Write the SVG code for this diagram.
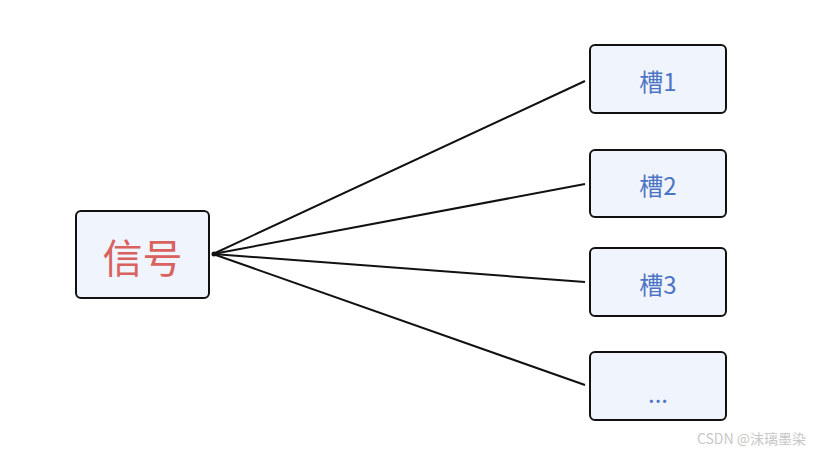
<svg xmlns="http://www.w3.org/2000/svg" width="818" height="456" viewBox="0 0 818 456">
<style>
.box{fill:#eff4fd;stroke:#111;stroke-width:2}
.lbl{font-family:"Noto Sans CJK SC","Noto Sans",sans-serif;fill:#4d74c4;font-size:24px;text-anchor:middle;dominant-baseline:central}
.conn{stroke:#111;stroke-width:2;fill:none}
</style>
<rect width="818" height="456" fill="#fff"/>
<g id="connectors">
<line class="conn" x1="213" y1="254" x2="585" y2="81"/>
<line class="conn" x1="213" y1="254" x2="585" y2="184"/>
<line class="conn" x1="213" y1="254" x2="585" y2="282"/>
<line class="conn" x1="213" y1="254" x2="585" y2="385"/>
<circle cx="214" cy="254" r="2.5" fill="#111"/>
</g>
<g id="signal">
<rect class="box" x="76" y="211" width="133" height="87" rx="5"/>
<text class="lbl" x="142.5" y="256" style="font-size:40px;fill:#d9625e">信号</text>
</g>
<g id="slot1">
<rect class="box" x="590" y="45" width="136" height="68" rx="5"/>
<text class="lbl" x="658" y="80">槽1</text>
</g>
<g id="slot2">
<rect class="box" x="590" y="150" width="136" height="67" rx="5"/>
<text class="lbl" x="658" y="184">槽2</text>
</g>
<g id="slot3">
<rect class="box" x="590" y="248" width="136" height="68" rx="5"/>
<text class="lbl" x="658" y="283">槽3</text>
</g>
<g id="slot4">
<rect class="box" x="590" y="352" width="136" height="68" rx="5"/>
<text class="lbl" x="658" y="392">...</text>
</g>
<text x="806" y="444" style="font-family:'Noto Sans CJK SC','Noto Sans',sans-serif;font-size:14px;fill:#c8c8c8;text-anchor:end">CSDN @沫璃墨染</text>
</svg>
